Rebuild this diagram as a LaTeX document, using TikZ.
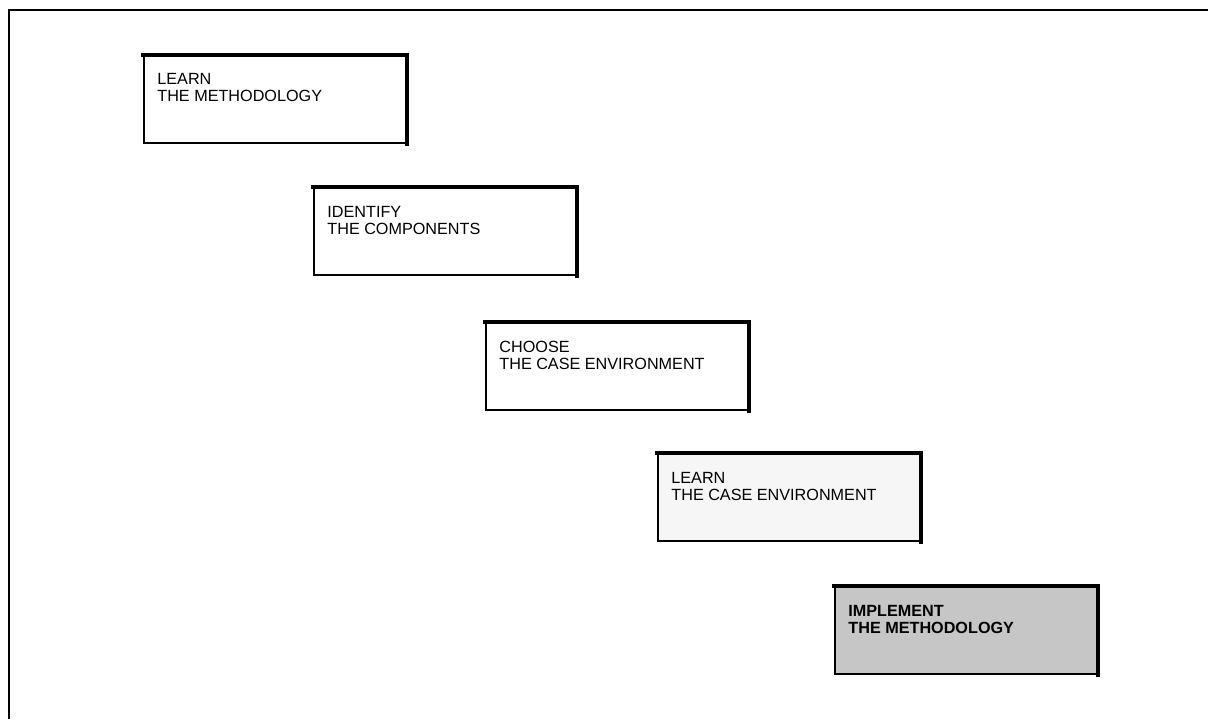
\documentclass[tikz,border=0pt]{standalone}
\usepackage{fontspec}
\setmainfont{Liberation Sans}
\begin{document}
\begin{tikzpicture}[x=0.5pt,y=-0.5pt,
  stepbox/.style={draw=black, line width=0.9pt, anchor=north west, inner sep=0pt,
    minimum width=131pt, minimum height=43.5pt},
  steptext/.style={anchor=north west, inner sep=0pt, align=left,
    font=\fontsize{8.1}{8.6}\selectfont},
  heavy/.style={line width=1.8pt, line cap=rect}
]
\useasboundingbox (0,0) rectangle (1208,719);
% outer frame (top and left only)
\coordinate (frTR) at (1208,10);
\coordinate (frTL) at (9,10);
\coordinate (frBL) at (9,719);
\draw[line width=1pt] (frTR) -- (frTL) -- (frBL);

% boxes
\node[stepbox, fill=white]   (b1) at (143,55)  {};
\node[stepbox, fill=white]   (b2) at (313,187) {};
\node[stepbox, fill=white]   (b3) at (485,322) {};
\node[stepbox, fill=gray!7]  (b4) at (657,453) {};
\node[stepbox, fill=gray!45] (b5) at (834,586) {};

\foreach \b in {b1,b2,b3,b4,b5}{
  \draw[heavy] (\b.north west) -- (\b.north east) -- (\b.south east);
}

\node[steptext] (t1) at ([shift={(14,18)}]b1.north west) {LEARN\\THE METHODOLOGY};
\node[steptext] (t2) at ([shift={(14,19)}]b2.north west) {IDENTIFY\\THE COMPONENTS};
\node[steptext] (t3) at ([shift={(14,19)}]b3.north west) {CHOOSE\\THE CASE ENVIRONMENT};
\node[steptext] (t4) at ([shift={(14,19)}]b4.north west) {LEARN\\THE CASE ENVIRONMENT};
\node[steptext, font=\fontsize{8.1}{8.6}\selectfont\bfseries] (t5) at ([shift={(14,19)}]b5.north west) {IMPLEMENT\\THE METHODOLOGY};
\end{tikzpicture}
\end{document}
